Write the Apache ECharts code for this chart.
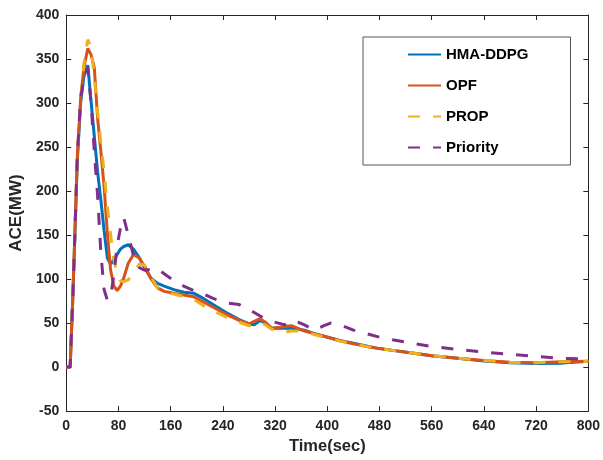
<!DOCTYPE html>
<html>
<head>
<meta charset="utf-8">
<script src="https://cdn.jsdelivr.net/npm/echarts@6/dist/echarts.min.js"></script>
<style>
html,body{margin:0;padding:0;background:#fff;}
#chart{width:603px;height:460px;}
</style>
</head>
<body>
<div id="chart"></div>
<script>
// Time samples (sec)
var timeSec = [0, 6, 10, 17, 22, 27, 33, 38, 43, 48, 53, 58, 63, 68, 73, 78, 83, 88, 95, 103, 112, 120, 130, 140, 150, 165, 180, 195, 210, 225, 245, 265, 280, 288, 297, 305, 315, 325, 335, 345, 355, 365, 380, 395, 405, 420, 440, 460, 480, 500, 530, 560, 600, 640, 680, 720, 760, 800];

var hmaDdpg = [0, 0, 78, 235, 300, 330, 343, 302, 262, 222, 190, 155, 124, 117, 122, 128, 134, 137, 139, 134, 124, 113, 101, 95, 92, 88, 85, 84, 78, 71, 62, 54, 49, 48, 53, 50, 44, 44, 44, 44, 43, 42, 38, 35, 33, 30, 27, 24, 21, 19, 16, 13, 10, 7, 5, 4, 4.5, 6.5];

var opf = [0, 0, 78, 240, 305, 340, 362, 355, 340, 283, 245, 205, 152, 110, 92, 87, 92, 101, 118, 128, 124, 114, 100, 90, 86, 84, 82, 80, 74, 68, 60, 53, 49, 52, 55, 51, 44, 45, 46, 47, 44, 41, 38, 35, 33, 30, 26.5, 23.5, 21, 19, 16, 13, 10, 7.5, 5.5, 5, 6, 6.5];

var prop = [0, 0, 78, 240, 305, 345, 372, 363, 330, 290, 255, 222, 182, 150, 122, 105, 98, 97, 99, 108, 117, 116, 102, 90, 85, 83, 80, 77, 70, 64, 57, 51, 47, 48, 50, 48, 43, 40, 40, 41, 41, 40, 37, 34, 32, 29.5, 26.5, 23.5, 21, 19, 16, 13, 10, 7.5, 5.5, 5, 6, 6.5];

var priority = [0, 0, 78, 240, 305, 330, 340, 300, 245, 195, 130, 88, 76, 80, 105, 138, 158, 170, 150, 127, 113, 110, 111, 112, 106, 98, 92, 87, 83, 78, 73, 71, 65, 62, 58, 55, 52, 50, 48, 53, 51, 48, 42, 47, 50, 48, 42, 38, 34, 31, 27, 23.5, 20, 17, 14.5, 12, 10, 9];

var seriesNames = ['HMA-DDPG', 'OPF', 'PROP', 'Priority'];
var seriesValues = [hmaDdpg, opf, prop, priority];
var seriesColors = ['#0072BD', '#D95319', '#EDB120', '#7E2F8E'];
var seriesDashed = [false, false, true, true];

var xTicks = {min: 0, max: 800, interval: 80};
var yTicks = {min: -50, max: 400, interval: 50};

var chart = echarts.init(document.getElementById('chart'), null, {renderer: 'canvas'});
var axisColor = '#262626';
var fontFam = '"Liberation Sans", Arial, sans-serif';

function pairs(vals) {
  return timeSec.map(function (t, i) { return [t, vals[i]]; });
}

var series = seriesNames.map(function (name, k) {
  return {
    name: name,
    type: 'line',
    data: pairs(seriesValues[k]),
    symbol: 'circle',
    showSymbol: false,
    smooth: false,
    z: 2 + k,
    lineStyle: {
      color: seriesColors[k],
      width: 3,
      type: seriesDashed[k] ? [12, 13] : 'solid',
      cap: 'butt'
    },
    itemStyle: {color: seriesColors[k]}
  };
});

var commonTick = {show: true, inside: true, length: 5, lineStyle: {color: axisColor, width: 1}};

chart.setOption({
  animation: false,
  backgroundColor: '#ffffff',
  grid: {left: 62, right: 10, top: 15, bottom: 47, containLabel: false},
  legend: {
    data: seriesNames,
    orient: 'vertical',
    left: 363,
    top: 37,
    itemWidth: 33,
    itemHeight: 14,
    itemGap: 16,
    padding: [10, 42, 10, 44],
    backgroundColor: '#ffffff',
    borderColor: '#555555',
    borderWidth: 1,
    itemStyle: {opacity: 0},
    textStyle: {fontFamily: fontFam, fontSize: 15, fontWeight: 'bold', color: '#000000'}
  },
  xAxis: [{
    type: 'value',
    min: xTicks.min, max: xTicks.max, interval: xTicks.interval,
    name: 'Time(sec)',
    nameLocation: 'middle',
    nameGap: 26,
    nameTextStyle: {fontFamily: fontFam, fontSize: 16.5, fontWeight: 'bold', color: axisColor},
    axisLine: {show: true, onZero: false, lineStyle: {color: axisColor, width: 1}},
    axisTick: commonTick,
    axisLabel: {margin: 8, fontFamily: fontFam, fontSize: 14, fontWeight: 'bold', color: axisColor},
    splitLine: {show: false}
  }, {
    type: 'value', position: 'top',
    min: xTicks.min, max: xTicks.max, interval: xTicks.interval,
    axisLine: {show: true, onZero: false, lineStyle: {color: axisColor, width: 1}},
    axisTick: commonTick,
    axisLabel: {show: false},
    splitLine: {show: false}
  }],
  yAxis: [{
    type: 'value',
    min: yTicks.min, max: yTicks.max, interval: yTicks.interval,
    name: 'ACE(MW)',
    nameLocation: 'middle',
    nameGap: 33,
    nameTextStyle: {fontFamily: fontFam, fontSize: 17, fontWeight: 'bold', color: axisColor},
    axisLine: {show: true, onZero: false, lineStyle: {color: axisColor, width: 1}},
    axisTick: commonTick,
    axisLabel: {margin: 7, fontFamily: fontFam, fontSize: 14, fontWeight: 'bold', color: axisColor},
    splitLine: {show: false}
  }, {
    type: 'value', position: 'right',
    min: yTicks.min, max: yTicks.max, interval: yTicks.interval,
    axisLine: {show: true, onZero: false, lineStyle: {color: axisColor, width: 1}},
    axisTick: commonTick,
    axisLabel: {show: false},
    splitLine: {show: false}
  }],
  series: series
});
</script>
</body>
</html>
